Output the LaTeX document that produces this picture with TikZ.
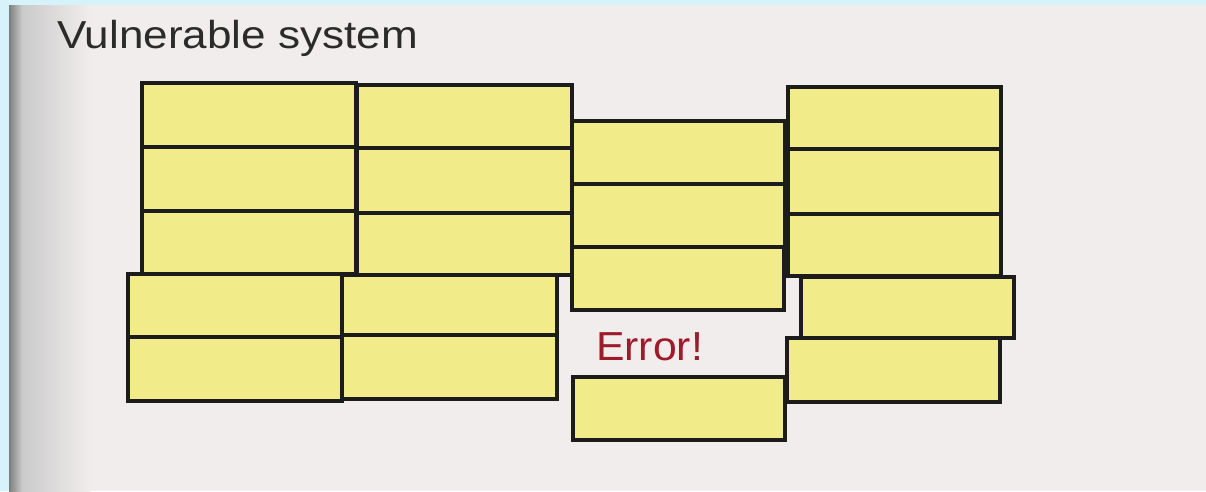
\documentclass[tikz,border=0pt]{standalone}
\usepackage{fontspec}
\usepackage{tikz}
\setmainfont{Liberation Sans}
\definecolor{page}{HTML}{F2EDED}
\definecolor{frame}{HTML}{D6F3F9}
\definecolor{shadowdark}{HTML}{7E7E7E}
\definecolor{shadowmid}{HTML}{CACACA}
\definecolor{brickfill}{HTML}{F1EB89}
\definecolor{edge}{HTML}{1C1C1C}
\definecolor{headtext}{HTML}{2B2B2B}
\definecolor{errred}{HTML}{9E1B2B}
\tikzset{
  brick/.style={draw=edge, fill=brickfill, line width=3.3pt},
  heading/.style={text=headtext, font=\fontsize{39}{39}\selectfont, inner sep=0pt, anchor=base west},
  errlab/.style={text=errred, font=\fontsize{40.5}{40.5}\selectfont, inner sep=0pt, anchor=base west}
}
\newcommand{\Brick}[4]{%
  % #1,#2 = top left corner, #3,#4 = bottom right corner (pixels)
  \draw[brick] (#1,#2) rectangle (#3,#4);
}

\begin{document}
\begin{tikzpicture}[x=1pt, y=-1pt, line join=miter]
  \useasboundingbox (0,0) rectangle (1206,491);
  % scanned page with its border and fold shadow
  \fill[frame] (0,0) rectangle (1206,491);
  \fill[page] (9,5) rectangle (1206,491);
  \shade[left color=shadowdark, right color=shadowmid] (9,5) rectangle (22,491);
  \shade[left color=shadowmid, right color=page] (22,5) rectangle (90,491);
  \node[heading] (head) at (57,48) {\scalebox{1.13}[1]{Vulnerable system}};
  % upper wall
  \Brick{142}{83}{356}{147}
  \Brick{142}{147}{356}{211}
  \Brick{142}{211}{356}{274}
  \Brick{357}{85}{572}{148}
  \Brick{357}{148}{572}{213}
  \Brick{357}{213}{572}{275}
  \Brick{572}{121}{785}{184}
  \Brick{572}{184}{785}{247}
  \Brick{572}{247}{784}{310}
  \Brick{788}{87}{1001}{149}
  \Brick{788}{149}{1001}{214}
  \Brick{788}{214}{1001}{276}
  % lower wall
  \Brick{128}{274}{342}{337}
  \Brick{128}{337}{342}{401}
  \Brick{342}{275}{557}{335}
  \Brick{342}{335}{557}{399}
  \Brick{801}{277}{1014}{338}
  \Brick{787}{338}{1000}{402}
  \Brick{573}{377}{785}{440}
  \node[errlab] (err) at (596,360) {\scalebox{1.055}[1]{Error!}};
\end{tikzpicture}
\end{document}
